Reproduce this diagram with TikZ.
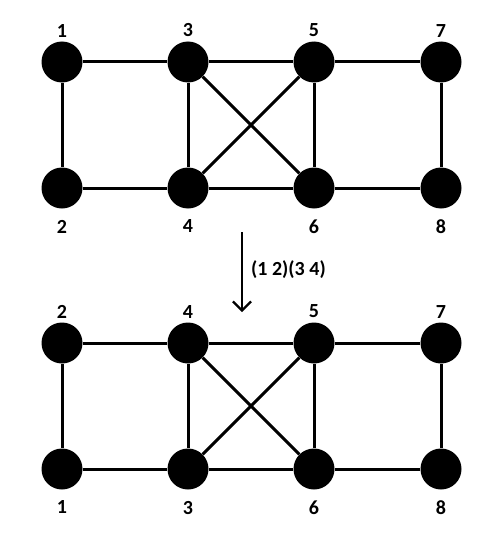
\documentclass[tikz,border=0pt]{standalone}
\usepackage{fontspec}
\setmainfont{Carlito}
\usetikzlibrary{arrows.meta,positioning}
\tikzset{
  vtx/.style={circle,fill=black,inner sep=0pt,minimum size=41pt},
  vlab/.style={font=\fontsize{20}{22}\selectfont\bfseries,inner sep=0pt},
  edge/.style={line width=3pt}
}
\begin{document}
\begin{tikzpicture}[x=1pt,y=-1pt,>={Straight Barb[length=9pt,width=18pt]}]
\useasboundingbox (0,0) rectangle (500,543);
% two copies of the graph: name prefix / vertical offset / labels (TL,BL,TM,BM)
\foreach \g/\dy/\a/\b/\c/\d in {u/0/1/2/3/4, l/281/2/1/4/3}{
  % vertices
  \node[vtx] (\g1) at (62,62+\dy) {};
  \node[vtx] (\g2) at (62,188+\dy) {};
  \node[vtx] (\g3) at (188,62+\dy) {};
  \node[vtx] (\g4) at (188,188+\dy) {};
  \node[vtx] (\g5) at (314,62+\dy) {};
  \node[vtx] (\g6) at (314,188+\dy) {};
  \node[vtx] (\g7) at (441,62+\dy) {};
  \node[vtx] (\g8) at (441,188+\dy) {};
  % labels
  \node[vlab,above=4pt of \g1] (\g1lab) {\a};
  \node[vlab,below=11pt of \g2] (\g2lab) {\b};
  \node[vlab,above=4pt of \g3] (\g3lab) {\c};
  \node[vlab,below=11pt of \g4] (\g4lab) {\d};
  \node[vlab,above=4pt of \g5] (\g5lab) {5};
  \node[vlab,below=11pt of \g6] (\g6lab) {6};
  \node[vlab,above=4pt of \g7] (\g7lab) {7};
  \node[vlab,below=11pt of \g8] (\g8lab) {8};
  % edges
  \foreach \s/\t in {1/3,1/2,2/4,3/5,3/4,3/6,4/5,4/6,5/7,5/6,6/8,7/8}
    \draw[edge] (\g\s) -- (\g\t);
}
% permutation arrow
\coordinate (arrtop) at (242,232);
\coordinate (arrbot) at (242,312);
\draw[->,line width=2.2pt] (arrtop) -- (arrbot);
\node[vlab,anchor=west] (perm) at (251,270) {(1 2)(3 4)};
\end{tikzpicture}
\end{document}
